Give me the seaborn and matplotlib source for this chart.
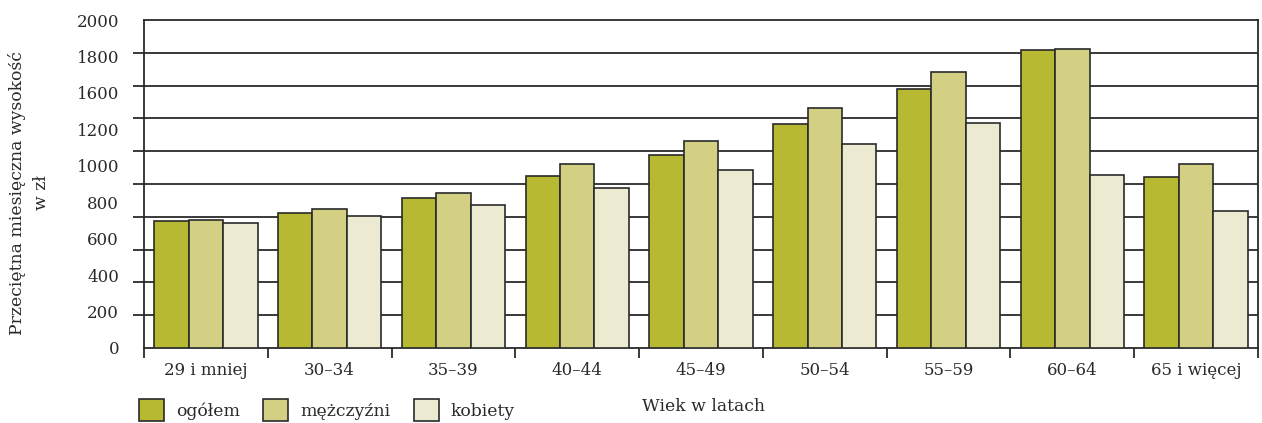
import numpy as np
import pandas as pd
import matplotlib
matplotlib.use("Agg")
import matplotlib.pyplot as plt
import seaborn as sns

# Age groups and average monthly amounts (zł)
age_groups = ["29 i mniej", "30–34", "35–39", "40–44", "45–49",
              "50–54", "55–59", "60–64", "65 i więcej"]
ogolem = [775, 825, 915, 1050, 1175, 1365, 1580, 1820, 1040]
mezczyzni = [780, 845, 945, 1120, 1265, 1465, 1685, 1825, 1125]
kobiety = [765, 805, 875, 975, 1085, 1245, 1375, 1055, 835]

series_names = ["ogółem", "mężczyźni", "kobiety"]
series_colors = ["#B8B932", "#D3D084", "#ECEBD2"]

# Value axis labels (printed evenly along the axis)
y_tick_labels = ["0", "200", "400", "600", "800", "1000", "1200", "1600", "1800", "2000"]
y_grid = list(range(0, 2001, 200))

df = pd.DataFrame({
    "wiek": age_groups * 3,
    "wartosc": ogolem + mezczyzni + kobiety,
    "seria": [s for s in series_names for _ in age_groups],
})

sns.set_theme(style="white")
plt.rcParams["font.family"] = ["DejaVu Serif"]
ink = "#2a2a2a"
plt.rcParams["text.color"] = ink
fs = 12

fig = plt.figure(figsize=(12.62, 4.23), dpi=100)
ax = fig.add_axes([144 / 1262, 1 - 348 / 423, (1258 - 144) / 1262, (348 - 20) / 423])

sns.barplot(data=df, x="wiek", y="wartosc", hue="seria", order=age_groups,
            hue_order=series_names, palette=series_colors, saturation=1,
            width=0.835, edgecolor=ink, linewidth=1.2, ax=ax, legend=False,
            errorbar=None, zorder=3)

ax.set_xlim(-0.5, len(age_groups) - 0.5)
ax.set_ylim(0, 2000)

# Gridlines with outward tick marks
ax.set_yticks(y_grid, minor=True)
ax.yaxis.grid(True, which="minor", color=ink, linewidth=1.3)
ax.yaxis.grid(False, which="major")
ax.set_axisbelow(True)
ax.tick_params(axis="y", which="minor", direction="out", length=8, width=1.3,
               color=ink, left=True)
ax.set_yticks(np.linspace(0, 2000, len(y_tick_labels)))
ax.set_yticklabels(y_tick_labels)
ax.tick_params(axis="y", which="major", length=0, pad=18, labelsize=fs,
               labelcolor=ink)

# Category separators on the x axis
ax.set_xticks(np.arange(-0.5, len(age_groups)), minor=True)
ax.tick_params(axis="x", which="minor", direction="out", length=7, width=1.3,
               color=ink, bottom=True)
ax.set_xticks(np.arange(len(age_groups)))
ax.set_xticklabels(age_groups)
ax.tick_params(axis="x", which="major", length=0, pad=10, labelsize=fs,
               labelcolor=ink)

for side in ["left", "right", "top", "bottom"]:
    ax.spines[side].set_visible(True)
    ax.spines[side].set_color(ink)
    ax.spines[side].set_linewidth(1.3)

ax.set_xlabel("")
ax.set_ylabel("")
fig.text(703 / 1262, 1 - 406 / 423, "Wiek w latach", ha="center", va="center",
         fontsize=fs + 0.4, color=ink)
fig.text(29 / 1262, 1 - 193 / 423, "Przeciętna miesięczna wysokość\nw zł",
         rotation=90, ha="center", va="center", multialignment="center",
         fontsize=fs + 0.4, linespacing=1.6, color=ink)

handles = [plt.Rectangle((0, 0), 1, 1, facecolor=c, edgecolor=ink, linewidth=1.2)
           for c in series_colors]
fig.legend(handles, series_names, loc="upper left",
           bbox_to_anchor=(139 / 1262, 1 - 399 / 423), ncol=3, frameon=False,
           fontsize=fs + 0.4, handlelength=1.45, handleheight=1.6, handletextpad=0.7,
           columnspacing=1.35, borderpad=0, borderaxespad=0)

fig.savefig("out.png", dpi=100)
